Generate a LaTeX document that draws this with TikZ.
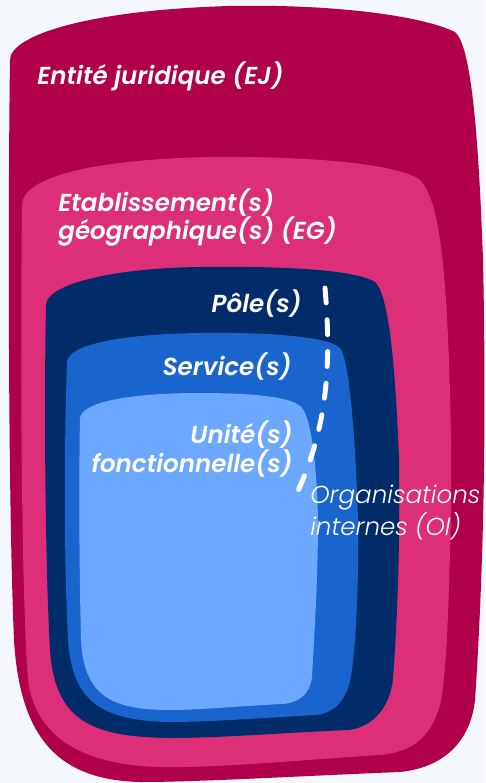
\documentclass[tikz,border=0pt]{standalone}
\usepackage{fontspec}
\usepackage{tikz}
\newfontfamily\popfont{Poppins SemiBold Italic}
\newfontfamily\poplight{Poppins Light Italic}
\definecolor{bgcol}{HTML}{F4F8FC}
\definecolor{ejcol}{HTML}{B0004A}
\definecolor{egcol}{HTML}{DD2F78}
\definecolor{polecol}{HTML}{002C6A}
\definecolor{servcol}{HTML}{1A64CE}
\definecolor{ufcol}{HTML}{6CA8FF}

\begin{document}
\begin{tikzpicture}[x=0.02cm,y=-0.02cm,
        lbl/.style={text=white,inner sep=0pt,font=\popfont\fontsize{14}{16.2}\selectfont},
        oilbl/.style={text=white,inner sep=0pt,font=\poplight\fontsize{14}{15.5}\selectfont},
        oidash/.style={white,line width=2.8pt,line cap=round,dash pattern=on 8.5pt off 9.6pt}]
            \fill[bgcol] (0,0) rectangle (485,783);
            \useasboundingbox (0,0) rectangle (485,783);
            % nested blobs, outer to inner
            \fill[ejcol] (10,60) .. controls (10,35) and (90,10) .. (230,6)
                .. controls (330,4) and (420,15) .. (455,32)
                .. controls (470,45) and (478,120) .. (483,260)
                .. controls (486,400) and (485,550) .. (475,700)
                .. controls (470,745) and (440,768) .. (400,772)
                .. controls (300,776) and (200,782) .. (140,782)
                .. controls (60,780) and (20,740) .. (14,640)
                .. controls (8,500) and (8,200) .. (10,60) -- cycle;
            \fill[egcol] (22,205) .. controls (22,180) and (80,160) .. (210,157)
                .. controls (320,156) and (400,165) .. (420,180)
                .. controls (435,195) and (442,240) .. (446,300)
                .. controls (452,400) and (452,500) .. (450,555)
                .. controls (448,620) and (446,680) .. (440,705)
                .. controls (430,740) and (410,752) .. (380,755)
                .. controls (300,760) and (220,768) .. (160,767)
                .. controls (80,765) and (35,735) .. (28,680)
                .. controls (22,600) and (20,400) .. (22,205) -- cycle;
            \fill[polecol] (46,305) .. controls (46,285) and (110,268) .. (200,267)
                .. controls (290,266) and (355,270) .. (375,282)
                .. controls (390,295) and (396,380) .. (399,460)
                .. controls (400,540) and (398,610) .. (393,678)
                .. controls (390,710) and (370,728) .. (348,730)
                .. controls (280,733) and (220,738) .. (170,738)
                .. controls (90,737) and (55,720) .. (50,650)
                .. controls (45,560) and (44,400) .. (46,305) -- cycle;
            \fill[servcol] (67,362) .. controls (68,345) and (120,334) .. (200,333)
                .. controls (280,332) and (330,338) .. (340,348)
                .. controls (350,360) and (356,450) .. (358,520)
                .. controls (359,580) and (356,640) .. (352,670)
                .. controls (348,700) and (335,713) .. (316,715)
                .. controls (260,718) and (210,722) .. (170,722)
                .. controls (100,721) and (72,700) .. (68,640)
                .. controls (64,560) and (64,450) .. (67,362) -- cycle;
            \fill[ufcol] (80,418) .. controls (82,402) and (130,393) .. (200,393)
                .. controls (260,393) and (295,398) .. (302,408)
                .. controls (312,420) and (317,470) .. (318,520)
                .. controls (318,580) and (314,640) .. (312,677)
                .. controls (310,695) and (298,703) .. (282,704)
                .. controls (240,706) and (200,710) .. (170,710)
                .. controls (110,710) and (84,695) .. (81,640)
                .. controls (79,560) and (79,470) .. (80,418) -- cycle;

            \node[lbl,anchor=base west] (ej) at (37,85) {Entité juridique (EJ)};
            \node[lbl,anchor=base west,align=left] (eg) at (58,240) {Etablissement(s)\\géographique(s) (EG)};
            \node[lbl,anchor=base east] (pole) at (302,313) {Pôle(s)};
            \node[lbl,anchor=base east] (serv) at (292,375) {Service(s)};
            \node[lbl,anchor=base east,align=right] (uf) at (293,472) {Unité(s)\\fonctionnelle(s)};
            \node[oilbl,anchor=base west,align=left] (oi) at (310,535) {Organisations\\internes (OI)};

            \coordinate (oitop) at (325,288);
            \coordinate (oibot) at (297,493);
            \draw[oidash] (oitop) .. controls (332,370) and (326,430) .. (oibot);
\end{tikzpicture}
\end{document}
